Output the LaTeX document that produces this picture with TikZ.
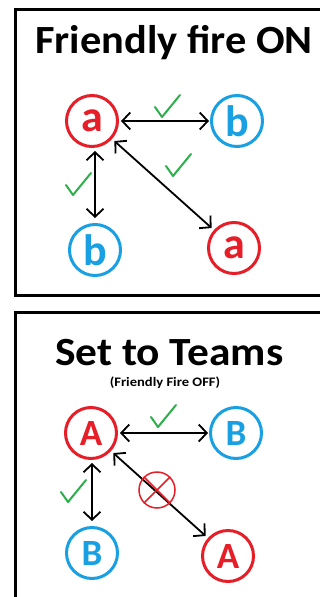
\documentclass[tikz,border=0pt]{standalone}
\usepackage{fontspec}
\setmainfont{Carlito}
\usetikzlibrary{arrows.meta}
\definecolor{myred}{RGB}{230,30,40}
\definecolor{myblue}{RGB}{25,160,226}
\definecolor{mygreen}{RGB}{45,175,75}
\begin{document}
\begin{tikzpicture}[x=1pt,y=-1pt,
  nd/.style={circle,draw,line width=3pt,minimum size=51pt,inner sep=0pt},
  lowf/.style={font=\fontsize{44}{44}\selectfont\bfseries},
  capf/.style={font=\fontsize{37}{37}\selectfont\bfseries},
  rednd/.style={nd,draw=myred,text=myred},
  bluend/.style={nd,draw=myblue,text=myblue},
  conn/.style={line width=1.8pt,{Straight Barb[length=8pt,width=17pt]}-{Straight Barb[length=8pt,width=17pt]}},
  panel/.style={line width=3pt,draw=black},
  chk/.pic={\draw[mygreen,line width=2pt,line cap=round,line join=round] (-7,-10) -- (0,0) -- (18,-22);},
  title/.style={anchor=base west,inner sep=0pt,font=\fontsize{40}{40}\selectfont\bfseries}
]
\useasboundingbox (0,0) rectangle (320,597);
\clip (0,0) rectangle (320,597);
\fill[white] (0,0) rectangle (320,597);
% panels
\draw[panel] (15,9) rectangle (340,295);
\draw[panel] (15,312) rectangle (340,620);
% top panel
\node[title,xscale=1.06] (t1) at (35,53) {Friendly fire ON};
\node[rednd,lowf] (a1) at (92,121) {a};
\node[bluend,lowf] (b1) at (237,121) {b};
\node[bluend,lowf] (b2) at (95,250) {b};
\node[rednd,lowf] (a2) at (234,248) {a};
\draw[conn,shorten <=2pt,shorten >=1pt] (a1) -- (b1);
\draw[conn,shorten <=3pt,shorten >=5pt] (a1.south -| b2) -- (b2.north);
\draw[conn,shorten <=3pt,shorten >=3pt] (a1) -- (a2);
\pic at (162,117) {chk};
\pic at (73,195) {chk};
\pic at (173,176) {chk};
% bottom panel
\node[title,xscale=1.085] (t2) at (55,365) {Set to Teams};
\node[anchor=base,inner sep=0pt,xscale=1.12,font=\fontsize{13}{13}\selectfont\bfseries] (t3) at (165,386) {(Friendly Fire OFF)};
\node[rednd,capf] (A1) at (91,433) {A};
\node[bluend,capf] (B1) at (236,433) {B};
\node[bluend,capf] (B2) at (92,553) {B};
\node[rednd,capf] (A2) at (228,556) {A};
\draw[conn,shorten <=2pt,shorten >=1pt] (A1) -- (B1);
\draw[conn,shorten <=3pt,shorten >=5pt] (A1.south -| B2) -- (B2.north);
\draw[conn,shorten <=3pt,shorten >=3pt] (A1) -- (A2);
\node[circle,draw=myred,line width=1.5pt,minimum size=36pt,inner sep=0pt] (x) at (157,490) {};
\draw[myred,line width=1.5pt] (x.north west) -- (x.south east) (x.north east) -- (x.south west);
\pic at (158,427) {chk};
\pic at (68,502) {chk};
\end{tikzpicture}
\end{document}
